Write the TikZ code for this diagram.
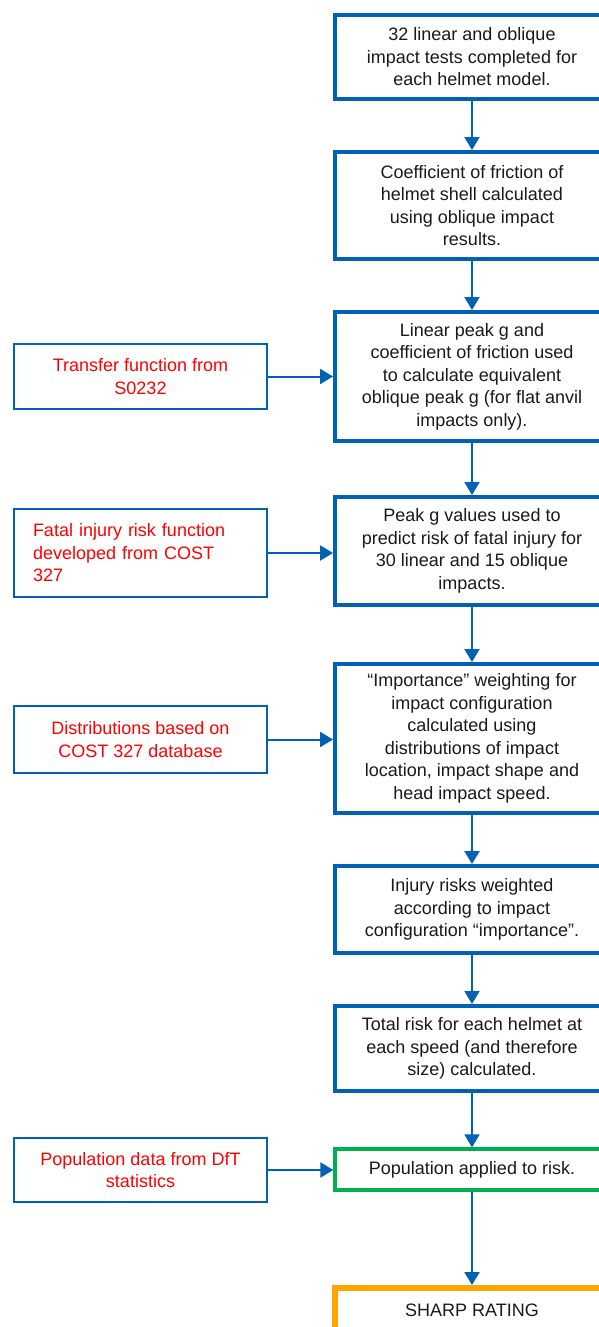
\documentclass[tikz,border=0pt]{standalone}
\usepackage{fontspec}
\setmainfont{Liberation Sans}
\usetikzlibrary{arrows.meta}
\definecolor{boxblue}{HTML}{0062B5}
\definecolor{txtred}{HTML}{FF0000}
\definecolor{boxgreen}{HTML}{00B050}
\definecolor{boxorange}{HTML}{FFA500}
\definecolor{txtdark}{HTML}{1A1A1A}
\begin{document}
\begin{tikzpicture}[x=1pt,y=-1pt,
 every node/.style={font=\fontsize{18}{22.5}\selectfont, text=txtdark},
 stepbox/.style={draw=boxblue, line width=4pt, minimum width=274pt, align=center, inner sep=0pt},
 srcbox/.style={draw=boxblue, line width=2pt, minimum width=253pt, align=center, text=txtred, inner sep=0pt},
 flow/.style={draw=boxblue, line width=2pt, -{Triangle[length=13pt,width=15pt]}}
]
\useasboundingbox (0,0) rectangle (599,1327);
\clip (0,0) rectangle (599,1327);
\fill[white] (0,0) rectangle (599,1327);

% main column
\node[stepbox, minimum height=84pt] (b1) at (472,57)
  {32 linear and oblique\\impact tests completed for\\each helmet model.};
\node[stepbox, minimum height=107pt] (b2) at (472,205.5)
  {Coefficient of friction of\\helmet shell calculated\\using oblique impact\\results.};
\node[stepbox, minimum height=129pt] (b3) at (472,376.5)
  {Linear peak g and\\coefficient of friction used\\to calculate equivalent\\oblique peak g (for flat anvil\\impacts only).};
\node[stepbox, minimum height=108pt] (b4) at (472,551)
  {Peak g values used to\\predict risk of fatal injury for\\30 linear and 15 oblique\\impacts.};
\node[stepbox, minimum height=149pt] (b5) at (472,738.5)
  {“Importance” weighting for\\impact configuration\\calculated using\\distributions of impact\\location, impact shape and\\head impact speed.};
\node[stepbox, minimum height=87pt] (b6) at (472,909.5)
  {Injury risks weighted\\according to impact\\configuration “importance”.};
\node[stepbox, minimum height=85pt] (b7) at (472,1048.5)
  {Total risk for each helmet at\\each speed (and therefore\\size) calculated.};
\node[stepbox, draw=boxgreen, line width=3.3pt, minimum height=41pt] (b8) at (472,1169.5)
  {Population applied to risk.};
\node[draw=boxorange, line width=6pt, minimum width=274pt, anchor=north,
      text height=28pt, text depth=60pt, inner sep=0pt] (b9) at (472,1285)
  {SHARP RATING};

% source boxes
\node[srcbox, minimum height=65pt] (sA) at (140.5,376.5)
  {Transfer function from\\S0232};
\node[srcbox, minimum height=88pt, align=left, text width=215pt, inner xsep=19pt] (sB) at (140.5,553)
  {Fatal injury risk function\\developed from COST\\327};
\node[srcbox, minimum height=67pt] (sC) at (140.5,739.5)
  {Distributions based on\\COST 327 database};
\node[srcbox, minimum height=64pt] (sD) at (140.5,1170)
  {Population data from DfT\\statistics};

% connectors
\draw[flow] (b1.south) -- (b2.north);
\draw[flow] (b2.south) -- (b3.north);
\draw[flow] (b3.south) -- (b4.north);
\draw[flow] (b4.south) -- (b5.north);
\draw[flow] (b5.south) -- (b6.north);
\draw[flow] (b6.south) -- (b7.north);
\draw[flow] (b7.south) -- (b8.north);
\draw[flow] (b8.south) -- (b9.north);
\draw[flow] (sA.east) -- (sA.east -| b3.west);
\draw[flow] (sB.east) -- (sB.east -| b4.west);
\draw[flow] (sC.east) -- (sC.east -| b5.west);
\draw[flow] (sD.east) -- (sD.east -| b8.west);
\end{tikzpicture}
\end{document}
